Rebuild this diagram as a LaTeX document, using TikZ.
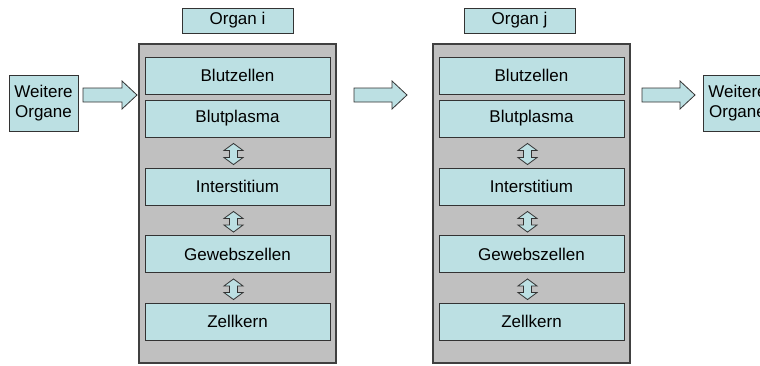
\documentclass[tikz,border=0pt]{standalone}
\usepackage{fontspec}
\setmainfont{Liberation Sans}
\usepackage{tikz}
\usetikzlibrary{calc}
\definecolor{zellblau}{RGB}{188,224,227}
\definecolor{organgrau}{RGB}{192,192,192}
\tikzset{
  organ/.style={draw=black!75, fill=organgrau, line width=1.2pt, inner sep=0pt, minimum width=197pt, minimum height=319pt},
  schicht/.style={draw=black!80, fill=zellblau, line width=0.9pt, inner sep=0pt, minimum width=185pt, minimum height=37pt, font=\fontsize{17}{20}\selectfont},
  titel/.style={schicht, minimum width=111pt, minimum height=25pt},
  weiter/.style={schicht, minimum width=69pt, minimum height=56pt, align=center},
  pfeil/.style={draw=black!80, fill=zellblau, line width=0.8pt, line join=miter}
}
% block arrow to the right, from #1 to #2
\newcommand{\rpfeil}[2]{%
  \draw[pfeil] let \p1=(#1), \p2=(#2) in
    (\x1,\y1+7pt) -- (\x2-15pt,\y1+7pt) -- (\x2-15pt,\y1+14pt) -- (\x2,\y1)
    -- (\x2-15pt,\y1-14pt) -- (\x2-15pt,\y1-7pt) -- (\x1,\y1-7pt) -- cycle;}
% block arrow up and down, from #1 (top) to #2 (bottom)
\newcommand{\dpfeil}[2]{%
  \draw[pfeil] let \p1=(#1), \p2=(#2) in
    (\x1-4pt,\y1-7pt) -- (\x1-9.5pt,\y1-7pt) -- (\x1,\y1) -- (\x1+9.5pt,\y1-7pt)
    -- (\x1+4pt,\y1-7pt) -- (\x1+4pt,\y2+7pt) -- (\x1+9.5pt,\y2+7pt) -- (\x1,\y2)
    -- (\x1-9.5pt,\y2+7pt) -- (\x1-4pt,\y2+7pt) -- cycle;}

\begin{document}
\begin{tikzpicture}[x=1pt, y=-1pt]

			\clip (0,0) rectangle (760,365);
			\fill[white] (0,0) rectangle (760,365);

			% Organ i
			\node[organ] (oi) at (237.5,203.5) {};
			\node[titel] (ti) at (237.5,20.5) {Organ i};
			\node[schicht] (bz1) at (237.5,75.5) {Blutzellen};
			\node[schicht] (bp1) at (237.5,118.5) {Blutplasma};
			\node[schicht] (is1) at (237.5,186.5) {Interstitium};
			\node[schicht] (gz1) at (237.5,254) {Gewebszellen};
			\node[schicht] (zk1) at (237.5,321.5) {Zellkern};

			% Organ j
			\node[organ] (oj) at (531.5,203.5) {};
			\node[titel] (tj) at (519.5,20.5) {Organ j};
			\node[schicht] (bz2) at (531.5,75.5) {Blutzellen};
			\node[schicht] (bp2) at (531.5,118.5) {Blutplasma};
			\node[schicht] (is2) at (531.5,186.5) {Interstitium};
			\node[schicht] (gz2) at (531.5,254) {Gewebszellen};
			\node[schicht] (zk2) at (531.5,321.5) {Zellkern};

			% weitere Organe
			\node[weiter] (wl) at (43.5,103.5) {Weitere\\Organe};
			\node[weiter] (wr) at (737.5,103.5) {Weitere\\Organe};

			% Pfeile
			\coordinate (a1) at (83,95);   \coordinate (a2) at (137,95);
			\coordinate (b1) at (354,95);  \coordinate (b2) at (407,95);
			\coordinate (c1) at (642,95);  \coordinate (c2) at (695,95);
			\rpfeil{a1}{a2}
			\rpfeil{b1}{b2}
			\rpfeil{c1}{c2}

			\dpfeil{$(bp1.south)+(-4,6)$}{$(is1.north)+(-4,-3)$}
			\dpfeil{$(is1.south)+(-4,6)$}{$(gz1.north)+(-4,-3)$}
			\dpfeil{$(gz1.south)+(-4,6)$}{$(zk1.north)+(-4,-3)$}
			\dpfeil{$(bp2.south)+(-4,6)$}{$(is2.north)+(-4,-3)$}
			\dpfeil{$(is2.south)+(-4,6)$}{$(gz2.north)+(-4,-3)$}
			\dpfeil{$(gz2.south)+(-4,6)$}{$(zk2.north)+(-4,-3)$}

\end{tikzpicture}
\end{document}
